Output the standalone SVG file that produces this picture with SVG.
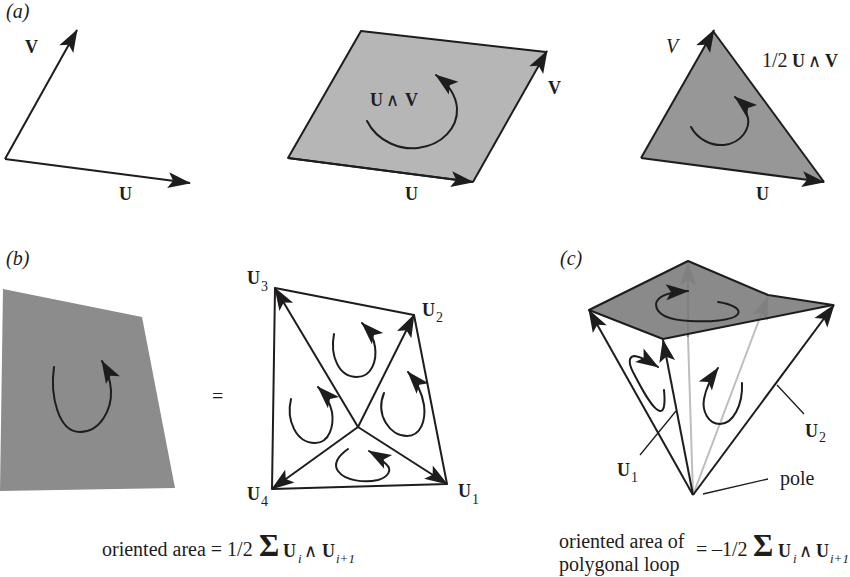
<svg xmlns="http://www.w3.org/2000/svg" width="850" height="577" viewBox="0 0 850 577">
<style>
text{font-family:"Liberation Serif","Times New Roman",serif;font-size:20px;fill:#1e1c1c}
.b{font-weight:bold;font-size:18px}
.i{font-style:italic}
.s{font-size:14px;font-weight:normal}
.si{font-size:13px;font-weight:normal;font-style:italic}
.w{font-size:18px;font-weight:normal}
.sg{font-size:31px;font-weight:bold}
.e{fill:none;stroke:#1e1c1c;stroke-width:2;stroke-linejoin:round}
.a{fill:none;stroke:#1e1c1c;stroke-width:2;marker-end:url(#h)}
.c{fill:none;stroke:#1e1c1c;stroke-width:2;stroke-linecap:round;marker-end:url(#h)}
.l{fill:none;stroke:#1e1c1c;stroke-width:1.3}
.g{fill:none;stroke:#bdbdbd;stroke-width:2}
.d{fill:none;stroke:#808080;stroke-width:2;marker-end:url(#g)}
</style>
<defs>
<marker id="h" markerUnits="userSpaceOnUse" markerWidth="26" markerHeight="18" refX="22" refY="9" orient="auto" overflow="visible">
<path d="M23 9L0 1L5 9L0 17Z" fill="#1e1c1c"/>
</marker>
<marker id="g" markerUnits="userSpaceOnUse" markerWidth="26" markerHeight="18" refX="22" refY="9" orient="auto" overflow="visible">
<path d="M23 9L0 1L5 9L0 17Z" fill="#808080"/>
</marker>
</defs>
<rect width="850" height="577" fill="#fff"/>

<g id="panel-a-vectors">
<text x="6" y="18" class="i">(a)</text>
<path class="a" d="M5 159L77 30"/>
<path class="a" d="M5 159L190 183"/>
<text x="25" y="53" class="b">V</text>
<text x="119" y="200" class="b">U</text>
</g>

<g id="panel-a-parallelogram">
<path d="M361 31L546 52L473 182L288 158Z" fill="#b6b6b6"/>
<path class="e" d="M473 182L288 158L361 31L546 52"/>
<path class="a" d="M288 158L473 182"/>
<path class="a" d="M473 182L547 51"/>
<path class="c" d="M367 121C378 143 402 150 418 148C442 145 458 128 457 108C456 96 448 84 436 75"/>
<text x="370" y="106" class="b">U<tspan class="w" x="386">∧</tspan><tspan x="405">V</tspan></text>
<text x="548" y="94" class="b">V</text>
<text x="405" y="200" class="b">U</text>
</g>

<g id="panel-a-triangle">
<path d="M713 31L824 182L641 158Z" fill="#979797"/>
<path class="e" d="M713 31L824 182"/>
<path class="a" d="M641 158L824 182"/>
<path class="a" d="M641 158L714 30"/>
<path class="c" d="M691 127C698 140 712 146 724 145C742 143 750 128 748 118C746 109 741 102 735 97"/>
<text x="666" y="53" class="i">V</text>
<text x="762" y="67">1/2<tspan class="b" x="792">U</tspan><tspan class="w" x="808">∧</tspan><tspan class="b" x="825">V</tspan></text>
<text x="756" y="200" class="b">U</text>
</g>

<g id="panel-b-polygon">
<text x="6" y="265" class="i">(b)</text>
<path d="M3 289L142 317L175 488L0 491Z" fill="#8c8c8c"/>
<path class="c" d="M54 367C50 395 58 432 80 432C100 432 112 410 111 390C110 378 106 368 102 361"/>
<text x="212" y="403">=</text>
</g>

<g id="panel-b-fan">
<path class="e" d="M275 288L414 315L447 484L272 489Z"/>
<path class="a" d="M358 427L275 288"/>
<path class="a" d="M358 427L414 315"/>
<path class="a" d="M358 427L447 484"/>
<path class="a" d="M358 427L272 489"/>
<path class="c" d="M334 334C330 355 338 377 357 377C372 377 377 360 375 347C374 338 369 330 362 323"/>
<path class="c" d="M291 399C286 420 296 443 315 443C330 443 334 425 332 412C330 403 325 394 318 387"/>
<path class="c" d="M384 393C375 415 390 436 407 436C421 436 426 420 424 405C422 393 416 381 408 372"/>
<path class="c" d="M348 449C338 456 333 464 338 471C345 481 365 483 378 480C388 477 393 470 386 464C382 460 376 455 369 451"/>
<text x="247" y="284" class="b">U<tspan class="s" x="261" y="291">3</tspan></text>
<text x="422" y="316" class="b">U<tspan class="s" x="436" y="322">2</tspan></text>
<text x="458" y="497" class="b">U<tspan class="s" x="472" y="504">1</tspan></text>
<text x="247" y="500" class="b">U<tspan class="s" x="261" y="506">4</tspan></text>
</g>

<g id="formula-b">
<text x="102" y="556">oriented area = 1/2</text>
<text x="259" y="556" class="sg">Σ</text>
<text x="283" y="557" class="b">U<tspan class="si" x="298" y="563">i</tspan><tspan class="w" x="304" y="557">∧</tspan><tspan x="322" y="557">U</tspan><tspan class="si" x="336" y="563">i+1</tspan></text>
</g>

<g id="panel-c">
<text x="560" y="265" class="i">(c)</text>
<path d="M688 261L768 295L833 305L663 339L589 310Z" fill="#8a8a8a"/>
<path class="g" d="M693 495L688 337M693 495L759 320"/>
<path class="d" d="M688 337L688 263"/>
<path class="d" d="M759 320L768 297"/>
<path class="e" d="M589 310L688 261L768 295L833 305L663 339Z"/>
<path class="a" d="M693 495L589 310"/>
<path class="a" d="M693 495L663 340"/>
<path class="a" d="M693 495L834 305"/>
<path class="c" d="M718 302C732 304 741 309 738 314C733 321 708 322 690 321C670 320 656 315 656 304C657 296 670 292 688 291"/>
<path class="c" d="M664 390C665 400 665 412 660 411C652 410 640 385 633 372C629 364 628 357 634 356C640 356 650 362 658 367"/>
<path class="c" d="M742 383C743 405 733 424 720 424C708 424 702 411 704 399C706 388 711 378 718 368"/>
<path class="l" d="M640 455L676 411M777 385L804 414M703 494L768 479"/>
<text x="617" y="476" class="b">U<tspan class="s" x="631" y="482">1</tspan></text>
<text x="805" y="437" class="b">U<tspan class="s" x="819" y="442">2</tspan></text>
<text x="780" y="485">pole</text>
</g>

<g id="formula-c">
<text x="559" y="548">oriented area of</text>
<text x="559" y="571">polygonal loop</text>
<text x="696" y="556">=<tspan x="712">–1/2</tspan></text>
<text x="753" y="556" class="sg">Σ</text>
<text x="778" y="557" class="b">U<tspan class="si" x="793" y="563">i</tspan><tspan class="w" x="799" y="557">∧</tspan><tspan x="816" y="557">U</tspan><tspan class="si" x="830" y="563">i+1</tspan></text>
</g>
</svg>
